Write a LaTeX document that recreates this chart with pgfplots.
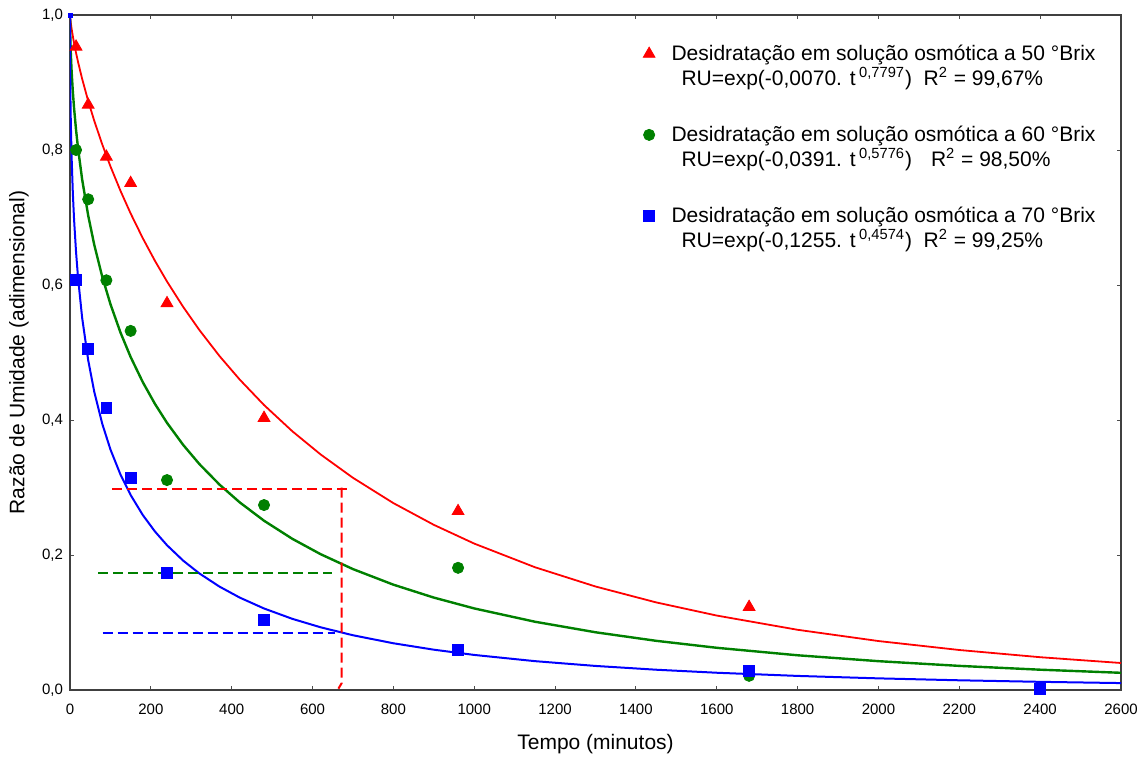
\documentclass[border=0pt]{standalone}
\usepackage{pgfplots}
\pgfplotsset{compat=1.18}
\usepackage{fontspec}
\setmainfont{Liberation Sans}
\definecolor{cred}{RGB}{255,0,0}
\definecolor{cgreen}{RGB}{0,128,0}
\definecolor{cblue}{RGB}{0,0,255}
\pgfplotsset{myleg/.style={legend image code/.code={\path (-4pt,-8pt) (10pt,4pt); \draw[##1] plot coordinates {(0pt,0pt)};}}}
\begin{document}
\begin{tikzpicture}
\path (-35pt,-32.5pt) rectangle (537.5pt,345pt);
\begin{axis}[
  scale only axis, width=525.5pt, height=337.5pt,
  at={(0,0)}, anchor=south west,
  xmin=0, xmax=2600, ymin=0, ymax=1,
  xtick={0,200,...,2600}, ytick={0,0.2,0.4,0.6,0.8,1.0},
  tick align=inside, major tick length=2.2pt,
  tick style={black!70, line width=0.5pt},
  axis line style={black!75, line width=0.8pt},
  /pgf/number format/assume math mode=true,
  ticklabel style={font=\fontsize{7.5}{9}\selectfont},
  xticklabel style={/pgf/number format/1000 sep={}, yshift=-3.5pt},
  yticklabel style={/pgf/number format/.cd, fixed, fixed zerofill, precision=1, use comma},
  xlabel={Tempo (minutos)}, ylabel={Razão de Umidade (adimensional)},
  label style={font=\fontsize{10.5}{12}\selectfont},
  xlabel style={at={(axis description cs:0.5,0)}, anchor=center, yshift=-27pt},
  ylabel style={at={(axis description cs:0,0.5)}, anchor=center, yshift=25.5pt},
  legend style={draw=none, fill=none, at={(0.978,0.96)}, anchor=north east,
    font=\fontsize{10.5}{11.5}\selectfont, column sep=0pt, row sep=26.5pt,
    inner sep=0pt, nodes={inner sep=1pt}},
  legend cell align=left,
]
% fitted curves (values of RU = exp(-k t^n))
\addplot[cred, line width=0.9pt, forget plot] coordinates {
(0,1) (0.5,0.99593) (1,0.99302) (2,0.98806) (4,0.97958) (7,0.96859) (10,0.95873) (15,0.94382) (20,0.93020) (30,0.90550) (45,0.87268) (60,0.84330) (80,0.80793) (100,0.77586) (125,0.73935) (150,0.70599) (180,0.66943) (210,0.63598) (240,0.60517) (280,0.56756) (320,0.53337) (370,0.49464) (420,0.45980) (480,0.42219) (550,0.38333) (620,0.34897) (700,0.31436) (800,0.27690) (900,0.24471) (1000,0.21692) (1150,0.18194) (1300,0.15334) (1450,0.12980) (1600,0.11029) (1800,0.08921) (2000,0.07254) (2200,0.05926) (2400,0.04859) (2600,0.04000)};
\addplot[cgreen, line width=1.2pt, forget plot] coordinates {
(0,1) (0.5,0.97414) (1,0.96165) (2,0.94331) (4,0.91660) (7,0.88665) (10,0.86258) (15,0.82957) (20,0.80203) (30,0.75666) (45,0.70302) (60,0.65955) (80,0.61174) (100,0.57176) (125,0.52943) (150,0.49335) (180,0.45617) (210,0.42401) (240,0.39581) (280,0.36310) (320,0.33477) (370,0.30422) (420,0.27792) (480,0.25080) (550,0.22398) (620,0.20122) (700,0.17912) (800,0.15605) (900,0.13692) (1000,0.12085) (1150,0.10117) (1300,0.08554) (1450,0.07288) (1600,0.06254) (1800,0.05145) (2000,0.04272) (2200,0.03574) (2400,0.03009) (2600,0.02549)};
\addplot[cblue, line width=1pt, forget plot] coordinates {
(0,1) (0.5,0.91265) (1,0.88205) (2,0.84171) (4,0.78932) (7,0.73662) (10,0.69786) (15,0.64849) (20,0.61016) (30,0.55171) (45,0.48873) (60,0.44191) (80,0.39400) (100,0.35647) (125,0.31906) (150,0.28889) (180,0.25930) (210,0.23496) (240,0.21447) (280,0.19166) (320,0.17273) (370,0.15311) (420,0.13690) (480,0.12078) (550,0.10544) (620,0.09290) (700,0.08111) (800,0.06925) (900,0.05974) (1000,0.05196) (1150,0.04277) (1300,0.03566) (1450,0.03006) (1600,0.02557) (1800,0.02088) (2000,0.01725) (2200,0.01439) (2400,0.01211) (2600,0.01027)};
% dashed guide lines
\addplot[cred, line width=1pt, dash pattern=on 5pt off 2.5pt, forget plot] coordinates {(104,0.298) (685,0.298)};
\addplot[cred, line width=1pt, dash pattern=on 5pt off 2.5pt, forget plot] coordinates {(672,0.300) (672,0.010) (664,0.002)};
\addplot[cgreen, line width=1pt, dash pattern=on 5pt off 2.5pt, forget plot] coordinates {(70,0.173) (648,0.173)};
\addplot[cblue, line width=1pt, dash pattern=on 5pt off 2.5pt, forget plot] coordinates {(81,0.085) (656,0.085)};
\addplot[only marks, mark=square*, mark size=1pt, cblue, forget plot] coordinates {(0,1)};
% data
\addplot[only marks, mark=triangle*, mark size=3.4pt, cred, myleg]
  coordinates {(15,0.953) (45,0.867) (90,0.790) (150,0.751) (240,0.573) (480,0.403) (960,0.265) (1680,0.123)};
\addlegendentry{\begin{tabular}[t]{@{}l@{}}Desidratação em solução osmótica a 50 °Brix\\\hspace*{5pt}RU=exp(-0,0070. t\,\textsuperscript{0,7797})\hspace{0.55em}R\textsuperscript{2} = 99,67\%\end{tabular}}
\addplot[only marks, mark=*, mark size=2.8pt, cgreen, myleg]
  coordinates {(15,0.800) (45,0.727) (90,0.607) (150,0.532) (240,0.311) (480,0.274) (960,0.181) (1680,0.021)};
\addlegendentry{\begin{tabular}[t]{@{}l@{}}Desidratação em solução osmótica a 60 °Brix\\\hspace*{5pt}RU=exp(-0,0391. t\,\textsuperscript{0,5776})\hspace{0.9em}R\textsuperscript{2} = 98,50\%\end{tabular}}
\addplot[only marks, mark=square*, mark size=2.7pt, cblue, myleg]
  coordinates {(15,0.607) (45,0.505) (90,0.418) (150,0.314) (240,0.173) (480,0.104) (960,0.059) (1680,0.028) (2400,0.002)};
\addlegendentry{\begin{tabular}[t]{@{}l@{}}Desidratação em solução osmótica a 70 °Brix\\\hspace*{5pt}RU=exp(-0,1255. t\,\textsuperscript{0,4574})\hspace{0.55em}R\textsuperscript{2} = 99,25\%\end{tabular}}
\end{axis}
\end{tikzpicture}
\end{document}
